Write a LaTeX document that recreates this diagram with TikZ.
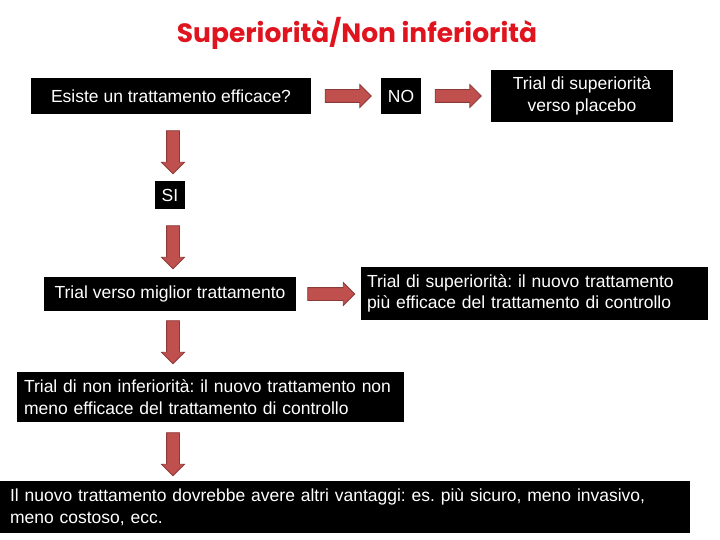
\documentclass[tikz,border=0pt]{standalone}
\usepackage{fontspec}
\setmainfont{Liberation Sans}
\newfontfamily\titlefont{Poppins}
\usetikzlibrary{shapes.arrows}
\definecolor{arrowfill}{HTML}{C0504D}
\definecolor{arrowdraw}{HTML}{8C3A38}
\definecolor{titlered}{HTML}{E0141E}
\frenchspacing
\begin{document}
\begin{tikzpicture}[x=1pt,y=-1pt,
  box/.style={fill=black,text=white,font=\fontsize{17.5}{21.5}\selectfont,inner sep=0pt},
  harrow/.style={single arrow,fill=arrowfill,draw=arrowdraw,line width=0.8pt,
    minimum height=46pt,single arrow head extend=5pt,
    single arrow head indent=0pt,inner sep=6pt},
  varrow/.style={harrow,rotate=-90,minimum height=43pt}]
\fill[white] (0,0) rectangle (720,540);
\useasboundingbox (0,0) rectangle (720,540);
\node[text=titlered,font=\titlefont\bfseries\fontsize{26.5}{30}\selectfont] (title) at (357,33) {Superiorità/Non inferiorità};
\node[box,minimum width=280pt,minimum height=36pt] (q) at (171,96) {Esiste un trattamento efficace?};
\node[harrow] (a1) at (345,96) {};
\node[box,minimum width=40pt,minimum height=36pt] (no) at (401,96) {NO};
\node[harrow] (a2) at (455,96) {};
\node[box,minimum width=182pt,minimum height=52pt,align=center] (plac) at (582,96) {Trial di superiorità\\verso placebo};
\node[varrow] (d1) at (173,149) {};
\node[box,minimum width=30pt,minimum height=28pt] (si) at (170,195) {SI};
\node[varrow] (d2) at (173,244) {};
\node[box,minimum width=252pt,minimum height=34pt] (mig) at (170,294) {Trial verso miglior trattamento};
\node[harrow,minimum height=47pt] (a3) at (328,294) {};
\node[box,minimum height=53pt,text width=335pt,inner xsep=6pt,align=left] (sup) at (534.5,293.5) {Trial di superiorità: il nuovo trattamento\\più efficace del trattamento di controllo};
\node[varrow] (d3) at (173,339) {};
\node[box,minimum height=50pt,text width=373pt,inner xsep=7pt,align=left] (ninf) at (210.5,397) {Trial di non inferiorità: il nuovo trattamento non\\meno efficace del trattamento di controllo};
\node[varrow] (d4) at (173,451) {};
\node[box,minimum height=52pt,text width=670pt,inner xsep=10pt,align=left] (bot) at (345,507) {Il nuovo trattamento dovrebbe avere altri vantaggi: es. più sicuro, meno invasivo,\\meno costoso, ecc.};
\end{tikzpicture}
\end{document}
